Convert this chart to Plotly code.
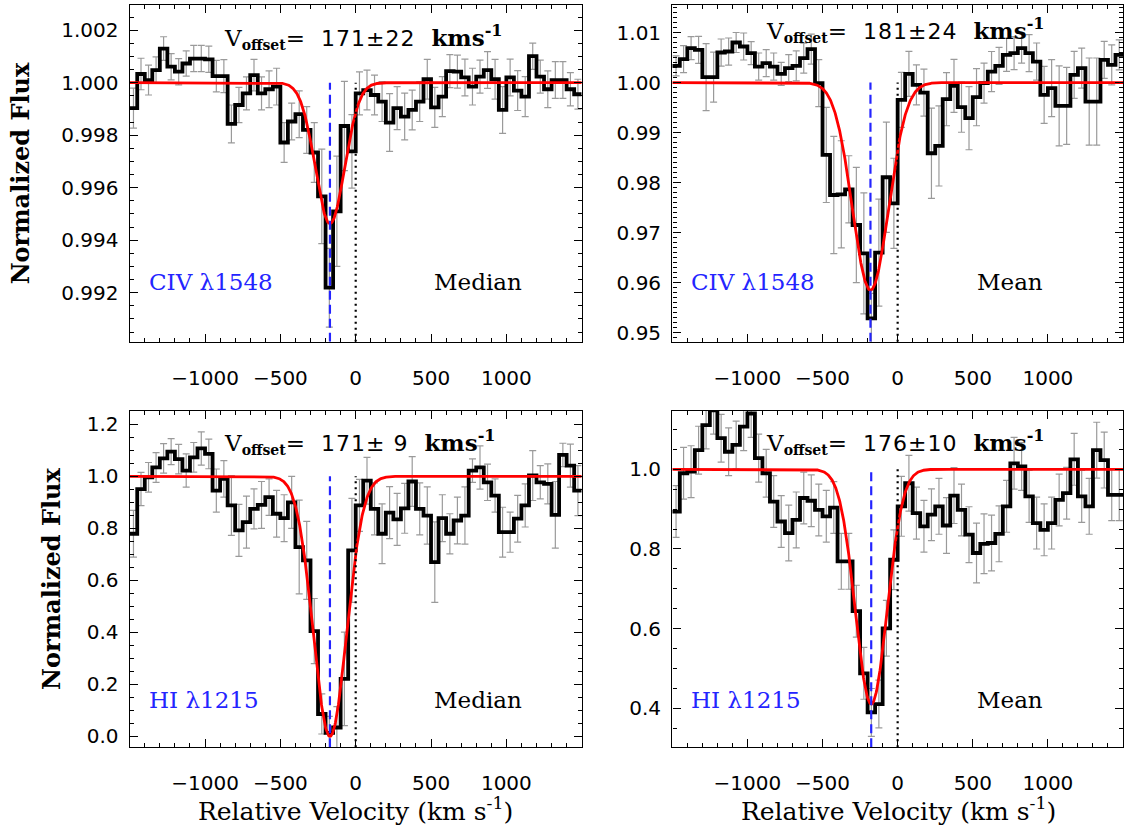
import numpy as np
import plotly.graph_objects as go

# ---------------- data ----------------
VEL = list(range(-1475, 1500, 50))          # bin centres (km/s), 50 km/s bins
BIN_HALF = 25

FLUX_CIV_MEDIAN = [0.99903, 1.00033, 1.00010, 1.00048, 1.00130, 1.00061, 1.00042, 1.00073, 1.00092, 1.00092,
                   1.00089, 1.00025, 1.00025, 0.99843, 0.99915, 0.99959, 1.00029, 0.99959, 0.99975, 0.99985,
                   0.99772, 0.99852, 0.99880, 0.99820, 0.99734, 0.99567, 0.99219, 0.99510, 0.99835, 0.99738,
                   0.99959, 0.99972, 0.99953, 0.99928, 0.99848, 0.99903, 0.99871, 0.99896, 0.99928, 1.00013,
                   0.99906, 0.99947, 1.00044, 1.00042, 1.00020, 0.99985, 1.00023, 1.00048, 1.00013, 0.99896,
                   1.00020, 0.99970, 0.99947, 1.00101, 1.00023, 0.99975, 1.00010, 1.00010, 0.99975, 0.99956]
ERR_CIV_MEDIAN = [0.00076, 0.00060, 0.00057, 0.00050, 0.00045, 0.00050, 0.00050, 0.00048, 0.00050, 0.00050,
                  0.00050, 0.00060, 0.00063, 0.00072, 0.00067, 0.00063, 0.00060, 0.00063, 0.00070, 0.00070,
                  0.00076, 0.00070, 0.00089, 0.00089, 0.00114, 0.00180, 0.00150, 0.00210, 0.00170, 0.00140,
                  0.00082, 0.00076, 0.00076, 0.00076, 0.00110, 0.00082, 0.00089, 0.00076, 0.00076, 0.00076,
                  0.00076, 0.00076, 0.00063, 0.00063, 0.00070, 0.00070, 0.00063, 0.00070, 0.00076, 0.00089,
                  0.00070, 0.00076, 0.00076, 0.00050, 0.00063, 0.00070, 0.00070, 0.00070, 0.00063, 0.00057]

FLUX_CIV_MEAN = [1.00333, 1.00467, 1.00687, 1.00653, 1.00107, 1.00107, 1.00600, 1.00620, 1.00800, 1.00720,
                 1.00587, 1.00320, 1.00387, 1.00320, 1.00173, 1.00287, 1.00333, 1.00487, 1.00667, 0.99987,
                 0.98553, 0.97753, 0.97767, 0.97867, 0.97153, 0.96587, 0.95287, 0.96600, 0.98107, 0.97587,
                 0.99653, 1.00173, 0.99953, 0.99800, 0.98587, 0.98733, 0.99667, 0.99933, 0.99507, 0.99287,
                 0.99707, 0.99987, 1.00220, 1.00333, 1.00553, 1.00587, 1.00687, 1.00587, 1.00420, 0.99753,
                 0.99887, 0.99533, 0.99533, 1.00153, 1.00287, 0.99620, 0.99620, 1.00453, 1.00353, 1.00553]
ERR_CIV_MEAN = [0.0020, 0.0027, 0.0023, 0.0027, 0.0067, 0.0050, 0.0027, 0.0027, 0.0020, 0.0027,
                0.0023, 0.0027, 0.0027, 0.0027, 0.0023, 0.0027, 0.0030, 0.0030, 0.0030, 0.0047,
                0.0095, 0.0117, 0.0107, 0.0067, 0.0115, 0.0121, 0.0050, 0.0107, 0.0110, 0.0090,
                0.0055, 0.0045, 0.0040, 0.0047, 0.0090, 0.0080, 0.0053, 0.0053, 0.0050, 0.0063,
                0.0057, 0.0040, 0.0040, 0.0037, 0.0033, 0.0033, 0.0030, 0.0037, 0.0037, 0.0057,
                0.0057, 0.0080, 0.0077, 0.0047, 0.0040, 0.0087, 0.0087, 0.0037, 0.0040, 0.0030]

FLUX_HI_MEDIAN = [0.779, 0.951, 0.996, 1.034, 1.069, 1.095, 1.066, 1.022, 1.073, 1.107,
                  1.086, 0.945, 0.990, 0.888, 0.792, 0.824, 0.875, 0.890, 0.920, 0.856,
                  0.839, 0.900, 0.728, 0.677, 0.405, 0.086, 0.013, 0.034, 0.221, 0.715,
                  0.888, 0.983, 0.875, 0.779, 0.860, 0.834, 0.877, 0.980, 0.875, 0.849,
                  0.670, 0.839, 0.779, 0.830, 0.849, 1.022, 1.034, 0.977, 0.926, 0.785,
                  0.785, 0.837, 0.888, 1.003, 0.977, 0.971, 0.852, 1.082, 1.041, 0.945]
ERR_HI_MEDIAN = [0.090, 0.064, 0.057, 0.057, 0.057, 0.050, 0.057, 0.064, 0.057, 0.064,
                 0.057, 0.083, 0.070, 0.115, 0.100, 0.100, 0.077, 0.090, 0.070, 0.090,
                 0.090, 0.100, 0.180, 0.150, 0.125, 0.077, 0.064, 0.080, 0.180, 0.200,
                 0.100, 0.090, 0.100, 0.115, 0.100, 0.100, 0.096, 0.096, 0.100, 0.110,
                 0.155, 0.090, 0.077, 0.090, 0.110, 0.045, 0.083, 0.070, 0.064, 0.096,
                 0.077, 0.090, 0.083, 0.096, 0.064, 0.077, 0.128, 0.045, 0.083, 0.096]

FLUX_HI_MEAN = [0.894, 0.990, 0.994, 1.048, 1.111, 1.148, 1.078, 1.044, 1.061, 1.107,
                1.140, 1.028, 0.990, 0.919, 0.869, 0.840, 0.873, 0.928, 0.921, 0.898,
                0.882, 0.904, 0.769, 0.769, 0.644, 0.488, 0.390, 0.411, 0.601, 0.773,
                0.907, 0.965, 0.890, 0.857, 0.886, 0.907, 0.859, 0.934, 0.898, 0.836,
                0.790, 0.813, 0.815, 0.838, 0.907, 1.015, 1.007, 0.932, 0.865, 0.848,
                0.865, 0.923, 0.940, 1.025, 0.932, 0.907, 1.048, 1.023, 0.936, 0.936]
ERR_HI_MEAN = [0.065, 0.065, 0.065, 0.060, 0.060, 0.060, 0.060, 0.060, 0.060, 0.060,
               0.060, 0.060, 0.060, 0.065, 0.065, 0.070, 0.070, 0.065, 0.065, 0.065,
               0.065, 0.065, 0.070, 0.070, 0.065, 0.065, 0.060, 0.060, 0.070, 0.075,
               0.075, 0.070, 0.065, 0.065, 0.065, 0.070, 0.070, 0.070, 0.065, 0.070,
               0.075, 0.075, 0.070, 0.070, 0.065, 0.065, 0.060, 0.065, 0.065, 0.065,
               0.065, 0.065, 0.065, 0.065, 0.065, 0.070, 0.070, 0.070, 0.065, 0.065]

# Gaussian fit parameters (centre km/s, depth, sigma km/s)
FIT_CENTER = [-171, -181, -171, -176]
FIT_DEPTH = [0.00537, 0.0415, 1.0, 0.589]
FIT_SIGMA = [97, 120, 110, 105]

V_OFFSET = ["171±22", "181±24", "171± 9", "176±10"]
LINE_LABELS = ["CIV λ1548", "CIV λ1548", "HI λ1215", "HI λ1215"]
STAT_LABELS = ["Median", "Mean", "Median", "Mean"]
X_TICKS = [-1000, -500, 0, 500, 1000]
Y_RANGES = [[0.99013, 1.00296], [0.9482, 1.0155], [-0.042, 1.253], [0.3025, 1.1475]]
Y_DTICK = [0.002, 0.01, 0.2, 0.2]
Y_MINOR = [0.0005, 0.001, 0.05, 0.05]
Y_FORMAT = [".3f", ".2f", ".1f", ".1f"]

FLUXES = [FLUX_CIV_MEDIAN, FLUX_CIV_MEAN, FLUX_HI_MEDIAN, FLUX_HI_MEAN]
ERRS = [ERR_CIV_MEDIAN, ERR_CIV_MEAN, ERR_HI_MEDIAN, ERR_HI_MEAN]

# ---------------- layout geometry (pixels of a 1124x825 page) ----------------
W, H = 1124, 825
PX_X = [(129.7, 581.7), (672.3, 1123.0), (129.7, 581.7), (672.3, 1123.0)]
PX_Y = [(5, 343), (5, 343), (412, 750), (412, 750)]
VTXT_POS = [(221.7, 37), (764.3, 30), (221.7, 444), (764.3, 444)]
LBL_Y = [283, 283, 703, 703]
LBL_X = [(146.7, 432.3), (689, 975), (146.7, 432.3), (689, 975)]

SERIF = "DejaVu Serif"
SANS = "DejaVu Sans"
BLUE = "#2424ff"

fig = go.Figure()
vel = np.array(VEL, dtype=float)
vfine = np.linspace(-1500, 1500, 1201)

for i in range(4):
    xa = "x" if i == 0 else f"x{i+1}"
    ya = "y" if i == 0 else f"y{i+1}"
    flux = np.array(FLUXES[i])
    err = np.array(ERRS[i])
    # error bars
    fig.add_trace(go.Scatter(x=vel, y=flux, mode="markers", marker=dict(size=0.1, color="rgba(0,0,0,0)"),
                             error_y=dict(type="data", array=err, color="#9a9a9a", thickness=1.2, width=3.5),
                             xaxis=xa, yaxis=ya, showlegend=False, hoverinfo="skip"))
    # histogram-style spectrum
    xs = np.append(vel - BIN_HALF, vel[-1] + BIN_HALF)
    ys = np.append(flux, flux[-1])
    fig.add_trace(go.Scatter(x=xs, y=ys, mode="lines", line=dict(color="black", width=3.8, shape="hv"),
                             xaxis=xa, yaxis=ya, showlegend=False))
    # Gaussian fit
    fit = 1 - FIT_DEPTH[i] * np.exp(-(vfine - FIT_CENTER[i]) ** 2 / (2 * FIT_SIGMA[i] ** 2))
    fig.add_trace(go.Scatter(x=vfine, y=fit, mode="lines", line=dict(color="#ff0000", width=2.8),
                             xaxis=xa, yaxis=ya, showlegend=False))
    ylo = Y_RANGES[i][0]
    # velocity offset marker (blue dashed) and zero velocity (black dotted)
    fig.add_trace(go.Scatter(x=[FIT_CENTER[i], FIT_CENTER[i]], y=[ylo, 1.0], mode="lines",
                             line=dict(color=BLUE, width=2.2, dash="9px,5px"),
                             xaxis=xa, yaxis=ya, showlegend=False))
    fig.add_trace(go.Scatter(x=[0, 0], y=[ylo, 1.0], mode="lines",
                             line=dict(color="black", width=2.2, dash="2px,4px"),
                             xaxis=xa, yaxis=ya, showlegend=False))

    xd = [PX_X[i][0] / W, PX_X[i][1] / W]
    yd = [1 - PX_Y[i][1] / H, 1 - PX_Y[i][0] / H]
    axcommon = dict(showline=True, linecolor="black", linewidth=1.4, mirror="allticks",
                    ticks="inside", ticklen=8, tickwidth=1.2, tickcolor="black",
                    showgrid=False, zeroline=False,
                    tickfont=dict(family=SANS, size=20, color="black"))
    fig.layout["xaxis" if i == 0 else f"xaxis{i+1}"] = dict(
        axcommon, domain=xd, range=[-1500, 1500], anchor=ya, tickmode="array", tickvals=X_TICKS,
        ticklabelstandoff=18,
        minor=dict(tickmode="linear", tick0=0, dtick=100, ticklen=4, ticks="inside",
                   tickcolor="black", tickwidth=1.0))
    fig.layout["yaxis" if i == 0 else f"yaxis{i+1}"] = dict(
        axcommon, domain=yd, range=Y_RANGES[i], anchor=xa, tick0=0, dtick=Y_DTICK[i],
        tickformat=Y_FORMAT[i], ticklabelstandoff=6,
        minor=dict(tick0=0, dtick=Y_MINOR[i], ticklen=4, ticks="inside",
                   tickcolor="black", tickwidth=1.0))

    vtxt = (f'<span style="font-family:{SERIF}">V<sub><b><span style="font-size:14px">offset</span></b></sub>=</span>'
            f'<span style="font-family:{SANS};font-size:22px;letter-spacing:1px">  {V_OFFSET[i]}  </span>'
            f'<span style="font-family:{SERIF}"><b>kms<sup>-1</sup></b></span>')
    fig.add_annotation(x=VTXT_POS[i][0] / W, y=1 - VTXT_POS[i][1] / H, xref="paper", yref="paper",
                       xanchor="left", yanchor="middle", text=vtxt, showarrow=False,
                       font=dict(family=SERIF, size=23, color="black"))
    fig.add_annotation(x=LBL_X[i][0] / W, y=1 - LBL_Y[i] / H, xref="paper", yref="paper",
                       xanchor="left", yanchor="middle", text=LINE_LABELS[i], showarrow=False,
                       font=dict(family=SERIF, size=23, color=BLUE))
    fig.add_annotation(x=LBL_X[i][1] / W, y=1 - LBL_Y[i] / H, xref="paper", yref="paper",
                       xanchor="left", yanchor="middle", text=STAT_LABELS[i], showarrow=False,
                       font=dict(family=SERIF, size=23, color="black"))

# axis titles
for (cx, cy) in [(20, 174), (52, 581)]:
    fig.add_annotation(x=cx / W, y=1 - cy / H, xref="paper", yref="paper", textangle=-90,
                       xanchor="center", yanchor="middle",
                       text="<b>Normalized Flux</b>", showarrow=False,
                       font=dict(family=SERIF, size=24, color="black"))
for cx in [355.7, 898.3]:
    fig.add_annotation(x=cx / W, y=1 - 812 / H, xref="paper", yref="paper",
                       xanchor="center", yanchor="middle",
                       text="Relative Velocity (km s<sup>-1</sup>)", showarrow=False,
                       font=dict(family=SERIF, size=25, color="black"))

fig.update_layout(width=W, height=H, margin=dict(l=0, r=0, t=0, b=0),
                  paper_bgcolor="white", plot_bgcolor="white", showlegend=False)

fig.write_html("out.html", config={"displayModeBar": False},
               post_script="document.body.style.margin='0px';document.body.style.overflow='hidden';")
